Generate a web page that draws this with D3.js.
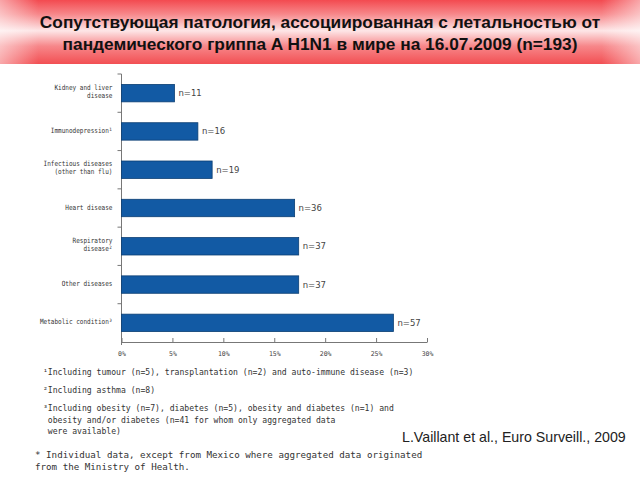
<!DOCTYPE html>
<html>
<head>
<meta charset="utf-8">
<script src="https://cdn.jsdelivr.net/npm/d3@7"></script>
<style>
  html, body { margin: 0; padding: 0; background: #fff; }
  svg { display: block; }
</style>
</head>
<body>
<svg id="chart" width="640" height="480"></svg>
<script>
// ---- data ----
const titleLines = [
  "Сопутствующая патология, ассоциированная с летальностью от",
  "пандемического гриппа A H1N1 в мире на 16.07.2009 (n=193)"
];
const categories = [
  "Kidney and liver|disease",
  "Immunodepression¹",
  "Infectious diseases|(other than flu)",
  "Heart disease",
  "Respiratory|disease²",
  "Other diseases",
  "Metabolic condition³"
];
const counts = [11, 16, 19, 36, 37, 37, 57];
const percents = [5.2, 7.5, 8.9, 17.0, 17.4, 17.4, 26.7];
const xTicks = [0, 5, 10, 15, 20, 25, 30];
const footnotes = [
  "¹Including tumour (n=5), transplantation (n=2) and auto-immune disease (n=3)",
  "²Including asthma (n=8)",
  "³Including obesity (n=7), diabetes (n=5), obesity and diabetes (n=1) and",
  " obesity and/or diabetes (n=41 for whom only aggregated data",
  " were available)"
];
const noteLines = [
  "* Individual data, except from Mexico where aggregated data originated",
  "from the Ministry of Health."
];
const citation = "L.Vaillant et al., Euro Surveill., 2009";

// ---- drawing ----
const svg = d3.select("#chart");
const defs = svg.append("defs");

const g1 = defs.append("linearGradient").attr("id", "hdr").attr("x1", 0).attr("y1", 0).attr("x2", 0).attr("y2", 1);
g1.append("stop").attr("offset", "0%").attr("stop-color", "#f34a50");
g1.append("stop").attr("offset", "22%").attr("stop-color", "#f7878a");
g1.append("stop").attr("offset", "48%").attr("stop-color", "#fde6e7");
g1.append("stop").attr("offset", "72%").attr("stop-color", "#f7878a");
g1.append("stop").attr("offset", "100%").attr("stop-color", "#f24f53");

const g2 = defs.append("linearGradient").attr("id", "hdrEdge").attr("x1", 0).attr("y1", 0).attr("x2", 1).attr("y2", 0);
g2.append("stop").attr("offset", "0%").attr("stop-color", "#fff").attr("stop-opacity", 0.5);
g2.append("stop").attr("offset", "6%").attr("stop-color", "#fff").attr("stop-opacity", 0);
g2.append("stop").attr("offset", "94%").attr("stop-color", "#fff").attr("stop-opacity", 0);
g2.append("stop").attr("offset", "100%").attr("stop-color", "#fff").attr("stop-opacity", 0.5);

svg.append("rect").attr("x", 0).attr("y", 0).attr("width", 640).attr("height", 64).attr("fill", "url(#hdr)");
svg.append("rect").attr("x", 0).attr("y", 0).attr("width", 640).attr("height", 64).attr("fill", "url(#hdrEdge)");

svg.append("g").selectAll("text").data(titleLines).join("text")
  .attr("x", 320).attr("y", (d, i) => 28 + i * 22)
  .attr("text-anchor", "middle")
  .attr("font-family", "'Liberation Sans', Arial, sans-serif")
  .attr("font-weight", "bold").attr("font-size", 17.3)
  .attr("fill", "#111")
  .text(d => d);

// scales
const x = d3.scaleLinear().domain([0, 30]).range([121.5, 427]);
const y = d3.scaleBand().domain(categories).range([74, 342]).paddingInner(0.545).paddingOuter(0.2725);

const axisColor = "#777";
const plot = svg.append("g");

// y axis line and boundary ticks
plot.append("line").attr("x1", x(0)).attr("x2", x(0)).attr("y1", 74).attr("y2", 345)
  .attr("stroke", axisColor).attr("stroke-width", 1);
const bounds = categories.map(c => y(c) - y.step() * y.paddingInner() / 2);
plot.selectAll(".ytick").data(bounds).join("line")
  .attr("x1", x(0) - 4).attr("x2", x(0)).attr("y1", d => d).attr("y2", d => d)
  .attr("stroke", axisColor).attr("stroke-width", 1);

// x axis
const xAxis = d3.axisBottom(x).tickValues(xTicks).tickSize(-4).tickSizeOuter(0).tickPadding(9)
  .tickFormat(d => d + "%");
const xg = plot.append("g").attr("transform", "translate(0,342)").call(xAxis);
xg.select(".domain").attr("stroke", axisColor);
xg.selectAll(".tick line").attr("stroke", axisColor);
xg.selectAll(".tick text")
  .attr("font-family", "'DejaVu Sans Mono', monospace").attr("font-size", 6.5).attr("fill", "#444");

// bars
const rows = categories.map((c, i) => ({ c, n: counts[i], p: percents[i] }));
plot.selectAll(".bar").data(rows).join("rect")
  .attr("x", x(0)).attr("y", d => y(d.c))
  .attr("width", d => x(d.p) - x(0)).attr("height", y.bandwidth())
  .attr("fill", "#125aa4").attr("stroke", "#0c3f73").attr("stroke-width", 0.8);

// value labels
plot.selectAll(".val").data(rows).join("text")
  .attr("x", d => x(d.p) + 4).attr("y", d => y(d.c) + y.bandwidth() / 2 + 3)
  .attr("font-family", "'DejaVu Sans', Verdana, sans-serif").attr("font-size", 8.5)
  .attr("fill", "#444")
  .text(d => "n=" + d.n);

// category labels
const lab = plot.selectAll(".lab").data(rows).join("g")
  .attr("transform", d => `translate(112.5,${y(d.c) + y.bandwidth() / 2}) scale(0.84,1)`);
lab.each(function (d) {
  const lines = d.c.split("|");
  const off = lines.length === 2 ? -2 : -1;
  d3.select(this).selectAll("text").data(lines).join("text")
    .attr("x", 0).attr("y", (t, i) => off + (i - (lines.length - 1) / 2) * 7.8 + 2.6)
    .attr("text-anchor", "end")
    .attr("font-family", "'DejaVu Sans Mono', monospace").attr("font-size", 7.2)
    .attr("fill", "#333")
    .text(t => t);
});

// footnotes
const fnY = [375, 393, 411, 423, 434];
svg.append("g").selectAll("text").data(footnotes).join("text")
  .attr("x", 43).attr("y", (d, i) => fnY[i])
  .attr("xml:space", "preserve")
  .style("white-space", "pre")
  .attr("font-family", "'DejaVu Sans Mono', monospace").attr("font-size", 8.1)
  .attr("fill", "#333")
  .text(d => d);

svg.append("g").selectAll("text").data(noteLines).join("text")
  .attr("x", 35).attr("y", (d, i) => 458 + i * 12)
  .attr("font-family", "'DejaVu Sans Mono', monospace").attr("font-size", 9.2)
  .attr("fill", "#333")
  .text(d => d);

svg.append("text").attr("x", 402).attr("y", 442)
  .attr("font-family", "'Liberation Sans', Arial, sans-serif").attr("font-size", 14.2)
  .attr("fill", "#222")
  .text(citation);
</script>
</body>
</html>
